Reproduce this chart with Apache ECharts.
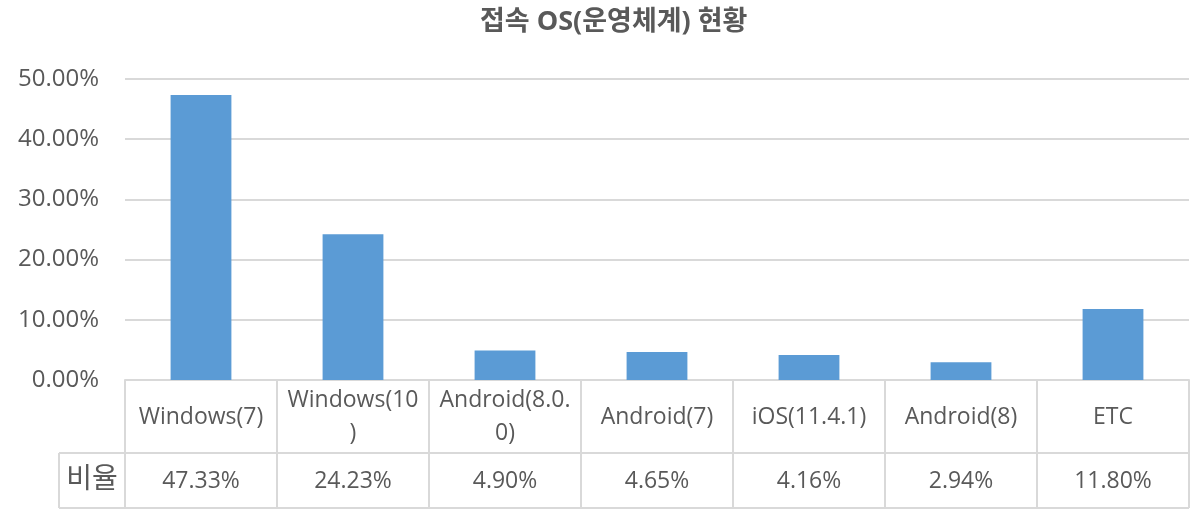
<!DOCTYPE html>
<html><head><meta charset="utf-8">
<script src="https://cdn.jsdelivr.net/npm/echarts@6/dist/echarts.min.js"></script>
<style>html,body{margin:0;padding:0;background:#fff}#c{width:1190px;height:513px}</style>
</head><body><div id="c"></div>
<script>
const categories = ['Windows(7)', 'Windows(10)', 'Android(8.0.0)', 'Android(7)', 'iOS(11.4.1)', 'Android(8)', 'ETC'];
const ratios = [47.33, 24.23, 4.90, 4.65, 4.16, 2.94, 11.80];
const seriesName = '비율';
const title = '접속 OS(운영체계) 현황';

const FONT = '"Open Sans", "Noto Sans CJK KR", sans-serif';
const TXT = '#595959';
const LINE = '#d9d9d9';
const chart = echarts.init(document.getElementById('c'), null, {renderer: 'canvas'});
const L = 125, R = 1, T = 79, B = 133;
const rowMid = 453, tableBottom = 508, keyLeft = 59;

chart.setOption({
  animation: false,
  textStyle: {fontFamily: FONT},
  title: {text: title, left: 475, top: 4,
    textStyle: {fontFamily: FONT, fontSize: 27, fontWeight: 'bold', color: TXT}},
  grid: {left: L, right: R, top: T, bottom: B, containLabel: false},
  xAxis: [{
    type: 'category', data: categories, position: 'bottom',
    axisLine: {show: true, lineStyle: {color: LINE, width: 2}},
    axisTick: {show: true, alignWithLabel: false, length: tableBottom - (513 - B), lineStyle: {color: LINE, width: 2}},
    axisLabel: {color: TXT, fontSize: 23, fontFamily: FONT, margin: 37, lineHeight: 33,
      width: 133, overflow: 'breakAll', interval: 0, verticalAlign: 'middle'}
  }, {
    type: 'category', data: categories, position: 'bottom', offset: rowMid - (513 - B),
    axisLine: {show: false}, axisTick: {show: false},
    axisLabel: {color: TXT, fontSize: 23, fontFamily: FONT, margin: 17, interval: 0,
      formatter: (v, i) => ratios[i].toFixed(2) + '%'}
  }],
  yAxis: {
    type: 'value', min: 0, max: 50, interval: 10,
    axisLine: {show: false}, axisTick: {show: false},
    splitLine: {lineStyle: {color: LINE, width: 2}},
    axisLabel: {color: TXT, fontSize: 24, fontFamily: FONT, margin: 26,
      formatter: v => v.toFixed(2) + '%'}
  },
  series: [{
    name: seriesName, type: 'bar', data: ratios, barWidth: '40%',
    itemStyle: {color: '#5b9bd5'}
  }],
  graphic: [
    {type: 'line', shape: {x1: keyLeft, y1: rowMid, x2: 1190 - R, y2: rowMid}, style: {stroke: LINE, lineWidth: 2}},
    {type: 'line', shape: {x1: keyLeft, y1: tableBottom, x2: 1190 - R, y2: tableBottom}, style: {stroke: LINE, lineWidth: 2}},
    {type: 'line', shape: {x1: keyLeft, y1: rowMid, x2: keyLeft, y2: tableBottom}, style: {stroke: LINE, lineWidth: 2}},
    {type: 'text', x: (keyLeft + L) / 2, y: (rowMid + tableBottom) / 2,
      style: {text: seriesName, fill: TXT, font: '28px ' + FONT, textAlign: 'center', textVerticalAlign: 'middle'}}
  ]
});
</script></body></html>
